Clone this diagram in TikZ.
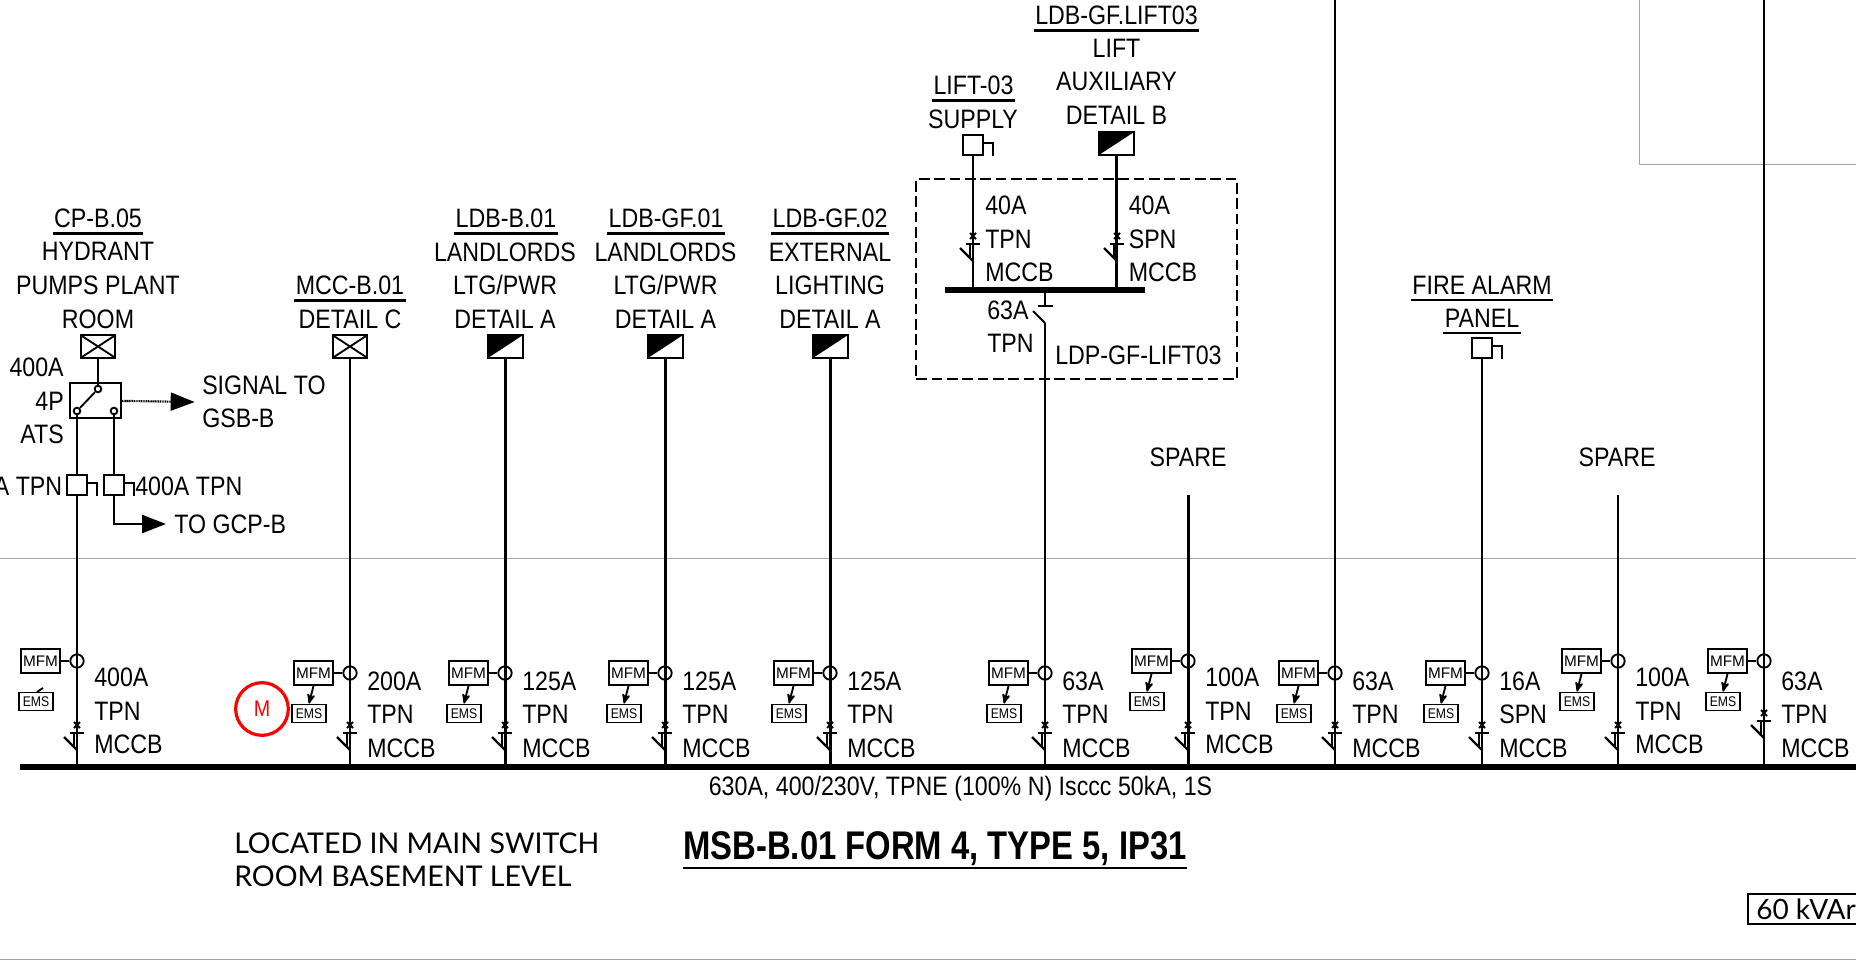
\documentclass[tikz,border=0pt]{standalone}
\usepackage{fontspec}
\setmainfont[FakeStretch=0.87]{Liberation Sans}
\newfontfamily\fontbrut{Liberation Sans}
\newfontfamily\fonttitre[FakeStretch=0.82]{Liberation Sans}
\newfontfamily\fontlato{Lato}
\usetikzlibrary{arrows,arrows.meta}
\usetikzlibrary{positioning}

\tikzset{
	fil/.style={line width=1.8pt},
	fin/.style={line width=1.4pt},
	regle/.style={line width=1.8pt},
	txt/.style={inner sep=0pt,align=center,font=\fontsize{20}{25.2}\selectfont},
	carre/.style={rectangle,draw,fin,fill=white,inner sep=0pt,minimum size=15pt},
	croix/.style={rectangle,draw,fin,inner sep=0pt,minimum width=26pt,minimum height=17pt,
		path picture={\draw[fin] (path picture bounding box.north west) -- (path picture bounding box.south east) (path picture bounding box.north east) -- (path picture bounding box.south west);}},
	demi/.style={rectangle,draw,fin,inner sep=0pt,minimum width=26pt,minimum height=17pt,
		path picture={\fill (path picture bounding box.north west) -- (path picture bounding box.north east) -- (path picture bounding box.south west) -- cycle;}},
	borne/.style={circle,draw,fin,fill=white,inner sep=0pt,minimum size=5pt},
	tore/.style={circle,draw,fin,inner sep=0pt,minimum size=10pt},
	mfm/.style={rectangle,draw,fin,inner sep=0pt,minimum width=29pt,minimum height=18pt,font=\fontbrut\fontsize{11.5}{11.5}\selectfont},
	ems/.style={rectangle,draw,fin,inner sep=0pt,minimum width=25pt,minimum height=13.5pt,font=\fontsize{10.5}{10.5}\selectfont},
	grosse/.style={fil,-{Triangle[length=18pt,width=13.5pt]}},
	trait/.style={draw=black!35,line width=0.75pt}
}

% depart : nom, x, y du tore, y du texte, y du disjoncteur, texte
\newcommand{\disjoncteur}[2]{%
	\draw[fin] (#1-3,#2-3) -- (#1+3,#2+3) (#1+3,#2-3) -- (#1-3,#2+3);
	\draw[fil] (#1-7,#2+8) -- (#1+7,#2+8);
	\draw[fil] (#1-13,#2+12) -- (#1,#2+25);
	\draw[fin] (#1-3,#2+8) -- (#1-3,#2+22);
}
\newcommand{\depart}[6]{%
	\node (MFM#1) at (#2-36.5,#3) [mfm] {MFM};
	\node (EMS#1) at (#2-41,#3+40.5) [ems] {EMS};
	\node (TORE#1) at (#2,#3) [tore] {};
	\node (TXT#1) at (#2+17,#4) [txt,anchor=west,align=left] {#6};
	\draw[fin] (MFM#1) -- (TORE#1);
	\disjoncteur{#2}{#5}
}
\newcommand{\liaison}[1]{\draw[fin,->,>=stealth'] (MFM#1.south) -- (EMS#1.north);}
\newcommand{\titre}[4]{%
	\node (#1) at (#2,#3) [txt] {#4};
	\draw[regle] ([xshift=-1pt,yshift=-4.2pt]#1.south west) -- ([xshift=1pt,yshift=-4.2pt]#1.south east);
}
\newcommand{\crochet}[1]{\draw[fin] ([yshift=1.5pt]#1.east) -| ([xshift=7pt]#1.south east);}

\begin{document}
\begin{tikzpicture}[x=0.75pt,y=-0.75pt]
	\useasboundingbox (0,0) rectangle (1856,966);
	% traits du cartouche
	\draw[trait] (0,558) -- (1856,558);
	\draw[trait] (0,959) -- (1856,959);
	\draw[trait] (1639,0) |- (1856,165);

	% jeu de barres
	\node (BUS) at (938,767) [fill,inner sep=0pt,minimum width=1377pt,minimum height=3.8pt] {};
	\node (BUSTXT) at (960.5,788.5) [txt] {630A, 400/230V, TPNE (100\% N) Isccc 50kA, 1S};
	\node (TITRE) at (935,848.5) [txt,font=\fonttitre\bfseries\fontsize{30}{30}\selectfont] {MSB-B.01 FORM 4, TYPE 5, IP31};
	\draw[line width=2.2pt] (683,868) -- (1187,868);
	\node (LIEU) at (234,859.5) [txt,anchor=west,align=left,font=\fontlato\fontsize{21.4}{25}\selectfont] {LOCATED IN MAIN SWITCH\\ROOM BASEMENT LEVEL};
	\node (KVAR) at (1756,909) [txt,anchor=west,font=\fontlato\fontsize{21}{25}\selectfont] {60 kVAr};
	\draw[fin] (1856,894) -| (1748,924) -- (1856,924);
	\node (MOT) at (262,709) [circle,draw=red,text=red,line width=2.4pt,inner sep=0pt,minimum size=39.5pt,font=\fontsize{17}{17}\selectfont] {M};

	% departs
	\depart{A}{77}{661}{711}{725}{400A\\TPN\\MCCB}
	\draw[fin] (37,692) -- (43,688);
	\depart{B}{350}{673}{714.5}{725}{200A\\TPN\\MCCB}
	\depart{C}{505}{673}{714.5}{725}{125A\\TPN\\MCCB}
	\depart{D}{665}{673}{714.5}{725}{125A\\TPN\\MCCB}
	\depart{E}{830}{673}{714.5}{725}{125A\\TPN\\MCCB}
	\depart{F}{1045}{673}{714.5}{725}{63A\\TPN\\MCCB}
	\depart{G}{1188}{661}{711}{725}{100A\\TPN\\MCCB}
	\depart{H}{1335}{673}{714.5}{725}{63A\\TPN\\MCCB}
	\depart{I}{1482}{673}{714.5}{725}{16A\\SPN\\MCCB}
	\depart{J}{1618}{661}{711}{725}{100A\\TPN\\MCCB}
	\depart{K}{1764}{661}{714.5}{713}{63A\\TPN\\MCCB}
	\liaison{B} \liaison{C} \liaison{D} \liaison{E} \liaison{F}
	\liaison{G} \liaison{H} \liaison{I} \liaison{J} \liaison{K}

	% CP-B.05 et inverseur
	\titre{CPT}{98}{218}{CP-B.05}
	\node (CPL) at (98,285.5) [txt] {HYDRANT\\PUMPS PLANT\\ROOM};
	\node (CPB) at (98,346.5) [croix] {};
	\node (ATS) at (95.5,400.5) [rectangle,draw,fin,inner sep=0pt,minimum width=38pt,minimum height=26pt] {};
	\node (B1) at (98,389) [borne] {};
	\node (B2) at (77,411) [borne] {};
	\node (B3) at (114,411) [borne] {};
	\node (ATSTXT) at (64,401) [txt,anchor=east,align=right] {400A\\4P\\ATS};
	\node (Q1) at (77,485) [carre] {};
	\node (Q2) at (114,485) [carre] {};
	\node (Q1TXT) at (62.5,486) [txt,anchor=east] {A TPN};
	\node (Q2TXT) at (135,486) [txt,anchor=west] {400A TPN};
	\node (SIG) at (202,402) [txt,anchor=west,align=left] {SIGNAL TO\\GSB-B};
	\node (GCP) at (174,524) [txt,anchor=west] {TO GCP-B};
	\crochet{Q1}
	\crochet{Q2}
	\draw[fil] (CPB) -- (B1);
	\draw[fin] (B1) -- (B2);
	\draw[fil] (B2) -- (Q1);
	\draw[fil] (B3) -- (Q2);
	\draw[fil] (Q1) -- (Q1 |- BUS.north);
	\draw[grosse] (Q2) |- ([xshift=-6pt]GCP.west);
	\draw[line width=1.6pt,dash pattern=on 0.8pt off 0.5pt,-{Triangle[length=18pt,width=13.5pt]}] (ATS) -- ([xshift=-5.5pt]SIG.west);

	% MCC et LDB
	\titre{MCCT}{350}{285}{MCC-B.01}
	\node (MCCL) at (350,319) [txt] {DETAIL C};
	\node (MCCB) at (350,346.5) [croix] {};
	\draw[fil] (MCCB) -- (MCCB |- BUS.north);
	\titre{LDBT}{506}{218}{LDB-B.01}
	\node (LDBL) at (505,285.5) [txt] {LANDLORDS\\LTG/PWR\\DETAIL A};
	\node (LDBB) at (505.5,346.5) [demi] {};
	\draw[fil] (LDBB) -- (LDBB |- BUS.north);
	\titre{LGFT}{666}{218}{LDB-GF.01}
	\node (LGFL) at (665.5,285.5) [txt] {LANDLORDS\\LTG/PWR\\DETAIL A};
	\node (LGFB) at (665.5,346.5) [demi] {};
	\draw[fil] (LGFB) -- (LGFB |- BUS.north);
	\titre{EXTT}{830}{218}{LDB-GF.02}
	\node (EXTL) at (830,285.5) [txt] {EXTERNAL\\LIGHTING\\DETAIL A};
	\node (EXTB) at (830.5,346.5) [demi] {};
	\draw[fil] (EXTB) -- (EXTB |- BUS.north);

	% coffret ascenseur
	\node (LDP) at (1076.5,279) [rectangle,draw,fin,dashed,dash pattern=on 8pt off 3.5pt,inner sep=0pt,minimum width=240.5pt,minimum height=150pt] {};
	\node (LDPTXT) at (1055,355) [txt,anchor=west] {LDP-GF-LIFT03};
	\titre{LIFT}{973.5}{85}{LIFT-03}
	\node (LIFL) at (973,119) [txt] {SUPPLY};
	\node (LIFB) at (973,145) [carre] {};
	\crochet{LIFB}
	\titre{AUXT}{1116.5}{15}{LDB-GF.LIFT03}
	\node (AUXL) at (1116.5,81.5) [txt] {LIFT\\AUXILIARY\\DETAIL B};
	\node (AUXB) at (1116.5,143.5) [demi] {};
	\node (SBUS) at (1045,290) [fill,inner sep=0pt,minimum width=150pt,minimum height=3.8pt] {};
	\draw[fil] (LIFB) -- (LIFB |- SBUS.north);
	\draw[fil] (AUXB) -- (AUXB |- SBUS.north);
	\disjoncteur{973}{236}
	\disjoncteur{1117}{236}
	\node (LIFTXT) at (985,239) [txt,anchor=west,align=left] {40A\\TPN\\MCCB};
	\node (AUXTXT) at (1128.5,239) [txt,anchor=west,align=left] {40A\\SPN\\MCCB};
	\node (ISOTXT) at (987,326.5) [txt,anchor=west,align=left] {63A\\TPN};
	\coordinate (ISOH) at (1045,306);
	\coordinate (ISOB) at (1045,323);
	\draw[fil] (SBUS) -- (ISOH);
	\draw[fin] (1038,306) -- (1053,306);
	\draw[fin] (1033,311) -- (ISOB);
	\draw[fil] (ISOB) -- (ISOB |- BUS.north);

	% reserves et alarme
	\node (SPA1) at (1188,457) [txt] {SPARE};
	\coordinate (SPH1) at (1188.5,495);
	\draw[fil] (SPH1) -- (SPH1 |- BUS.north);
	\node (SPA2) at (1617,457) [txt] {SPARE};
	\coordinate (SPH2) at (1618,495);
	\draw[fil] (SPH2) -- (SPH2 |- BUS.north);
	\titre{FIRE}{1482}{285}{FIRE ALARM}
	\titre{PAN}{1482}{318}{PANEL}
	\node (FIRB) at (1482,348) [carre] {};
	\crochet{FIRB}
	\draw[fil] (FIRB) -- (FIRB |- BUS.north);

	% departs vers le haut
	\coordinate (HAUT1) at (1335,0);
	\draw[fil] (HAUT1) -- (HAUT1 |- BUS.north);
	\coordinate (HAUT2) at (1764,0);
	\draw[fil] (HAUT2) -- (HAUT2 |- BUS.north);
\end{tikzpicture}
\end{document}
